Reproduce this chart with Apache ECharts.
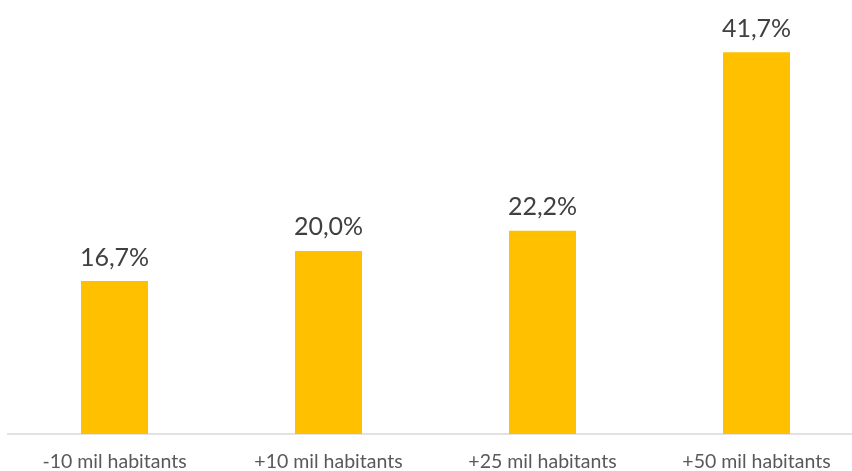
<!DOCTYPE html>
<html lang="fr">
<head>
    <meta charset="UTF-8">
    <script src="https://cdn.jsdelivr.net/npm/echarts@6/dist/echarts.min.js"></script>
    <title>Habitants</title>
    <style>
        html, body { margin: 0; padding: 0; background: #fff; }
    </style>
</head>
<body>
<div id="main" style="width: 852px;height:471px;"></div>

<script>
    var categories = ['-10 mil habitants', '+10 mil habitants', '+25 mil habitants', '+50 mil habitants'];
    var values = [16.7, 20.0, 22.2, 41.7];

    var chartDom = document.getElementById('main');
    var myChart = echarts.init(chartDom);
    var option = {
        animation: false,
        grid: {
            left: 7.5,
            width: 856,
            top: 22,
            bottom: 37,
            outerBoundsMode: 'none'
        },
        xAxis: {
            type: 'category',
            data: categories,
            axisTick: { show: false },
            axisLine: { lineStyle: { color: '#D9D9D9', width: 1.5 } },
            axisLabel: {
                color: '#595959',
                fontFamily: 'Lato',
                fontSize: 19.5,
                margin: 18,
                hideOverlap: false
            }
        },
        yAxis: {
            type: 'value',
            min: 0,
            max: 45,
            show: false,
            splitLine: { show: false }
        },
        series: [
            {
                type: 'bar',
                data: values,
                barWidth: 67,
                itemStyle: { color: '#FFC000' },
                label: {
                    show: true,
                    position: 'top',
                    distance: 11,
                    color: '#404040',
                    fontFamily: 'Lato',
                    fontSize: 25,
                    formatter: function (p) {
                        return p.value.toFixed(1).replace('.', ',') + '%';
                    }
                }
            }
        ]
    };
    myChart.setOption(option);
</script>
</body>
</html>
